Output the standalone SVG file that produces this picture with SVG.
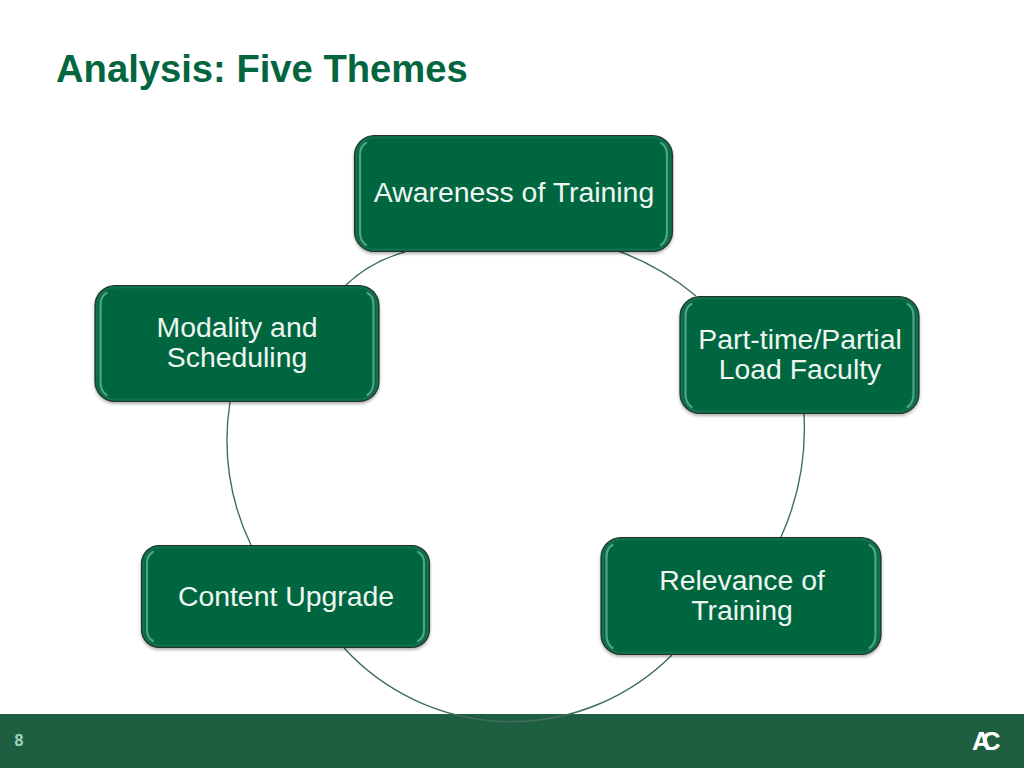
<svg xmlns="http://www.w3.org/2000/svg" width="1024" height="768" viewBox="0 0 1024 768">
<defs>
<style>
text{font-family:"Liberation Sans",Arial,sans-serif}
.box{fill:#03663f;stroke:#26332d;stroke-width:1.2;filter:url(#sh)}
.inner{fill:none;stroke:#12704b;stroke-width:2}
.hi{fill:none;stroke:#62b596;stroke-width:2.2;stroke-linecap:round;stroke-opacity:.8}
.lbl{font-size:28.4px;fill:#eef6f2;text-anchor:middle}
.arc{fill:none;stroke:#3f6f5a;stroke-width:1.4}
</style>
<filter id="sh" x="-5%" y="-5%" width="110%" height="115%"><feDropShadow dx="0" dy="2" stdDeviation="1.5" flood-color="#000" flood-opacity="0.3"/></filter>
</defs>
<rect width="1024" height="768" fill="#fff"/>
<rect id="footer" x="0" y="714" width="1024" height="54" fill="#1f5f41"/>
<text x="56" y="82" font-size="38.2" font-weight="700" fill="#03663f">Analysis: Five Themes</text>
<text x="19" y="746" font-size="16" font-weight="700" fill="#9fd8bd" text-anchor="middle">8</text>
<text id="logo" x="972" y="750" font-size="26" font-weight="700" fill="#fff" letter-spacing="-9">AC</text>
<g id="connectors">
<path class="arc" d="M346 285Q370.500 261.500 405 252"/>
<path class="arc" d="M618 251Q661 266.500 696 296"/>
<path class="arc" d="M804 414A265 265 0 0 1 781 537"/>
<path class="arc" d="M672 655A227 227 0 0 1 344 648"/>
<path class="arc" d="M251 545A240 240 0 0 1 230 402"/>
</g>
<g id="node-awareness">
<rect class="box" x="354.500" y="135.500" width="318" height="116" rx="20"/>
<rect class="inner" x="356.500" y="137.500" width="314" height="112" rx="18"/>
<path class="hi" d="M360 232V155Q360 146 366 143M667 232V155Q667 146 661 143M360 232Q360 241 366 245M667 232Q667 241 661 245"/>
<text class="lbl" x="514" y="202">Awareness of Training</text>
</g>
<g id="node-parttime">
<rect class="box" x="680" y="296.500" width="239" height="117" rx="20"/>
<rect class="inner" x="682" y="298.500" width="235" height="113" rx="18"/>
<path class="hi" d="M685.500 394V316Q685.500 307 691.500 304M913.500 394V316Q913.500 307 907.500 304M685.500 394Q685.500 403 691.500 407M913.500 394Q913.500 403 907.500 407"/>
<text class="lbl" x="800" y="349">Part-time/Partial</text>
<text class="lbl" x="800" y="379">Load Faculty</text>
</g>
<g id="node-relevance">
<rect class="box" x="601" y="537.500" width="280" height="117" rx="20"/>
<rect class="inner" x="603" y="539.500" width="276" height="113" rx="18"/>
<path class="hi" d="M606.500 635V557Q606.500 548 612.500 545M875.500 635V557Q875.500 548 869.500 545M606.500 635Q606.500 644 612.500 648M875.500 635Q875.500 644 869.500 648"/>
<text class="lbl" x="742" y="590">Relevance of</text>
<text class="lbl" x="742" y="620">Training</text>
</g>
<g id="node-content">
<rect class="box" x="141.500" y="545.500" width="288" height="102" rx="18"/>
<rect class="inner" x="143.500" y="547.500" width="284" height="98" rx="16"/>
<path class="hi" d="M147 630V563Q147 555 153 552M424 630V563Q424 555 418 552M147 630Q147 638 153 641M424 630Q424 638 418 641"/>
<text class="lbl" x="286" y="606">Content Upgrade</text>
</g>
<g id="node-modality">
<rect class="box" x="95" y="285.500" width="284" height="116" rx="20"/>
<rect class="inner" x="97" y="287.500" width="280" height="112" rx="18"/>
<path class="hi" d="M100.500 382V305Q100.500 296 106.500 293M373.500 382V305Q373.500 296 367.500 293M100.500 382Q100.500 391 106.500 395M373.500 382Q373.500 391 367.500 395"/>
<text class="lbl" x="237" y="337">Modality and</text>
<text class="lbl" x="237" y="367">Scheduling</text>
</g>
</svg>
